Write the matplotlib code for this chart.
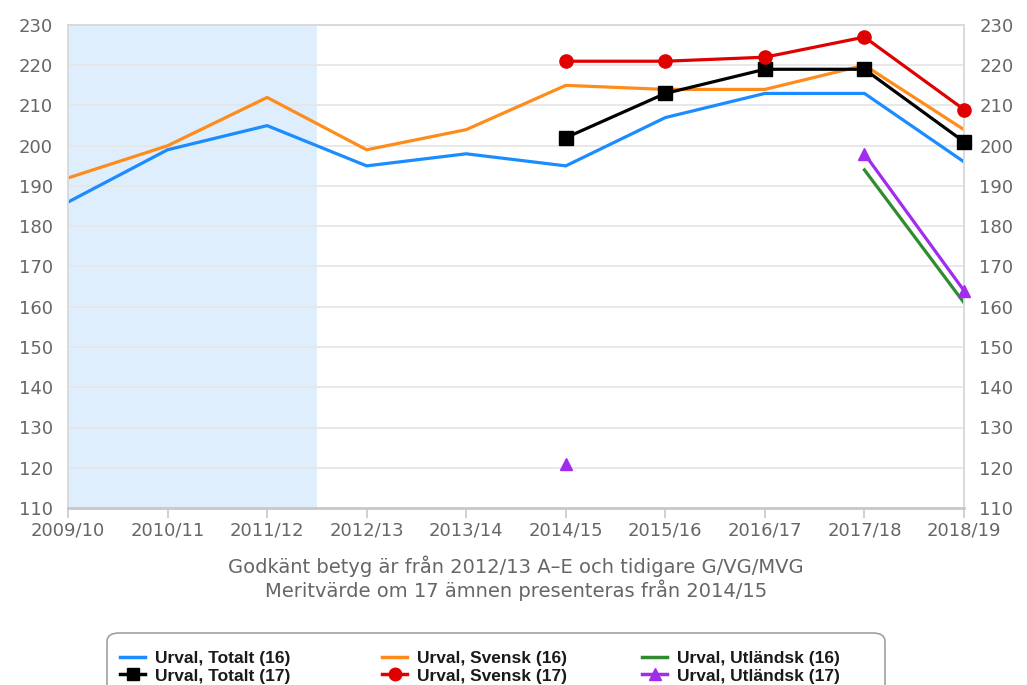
import numpy as np
import matplotlib
matplotlib.use("Agg")
import matplotlib.pyplot as plt
from matplotlib.patches import FancyBboxPatch
from matplotlib.lines import Line2D

# Läsår på x-axeln
years = ["2009/10", "2010/11", "2011/12", "2012/13", "2013/14",
         "2014/15", "2015/16", "2016/17", "2017/18", "2018/19"]

nan = np.nan
# Meritvärde, 16 ämnen
totalt_16 = [186, 199, 205, 195, 198, 195, 207, 213, 213, 196]
svensk_16 = [192, 200, 212, 199, 204, 215, 214, 214, 220, 204]
utl_16 = [nan, nan, nan, nan, nan, nan, nan, nan, 194, 161]
# Meritvärde, 17 ämnen (från 2014/15)
totalt_17 = [nan, nan, nan, nan, nan, 202, 213, 219, 219, 201]
svensk_17 = [nan, nan, nan, nan, nan, 221, 221, 222, 227, 209]
utl_17 = [nan, nan, nan, nan, nan, 121, nan, nan, 198, 164]

y_ticks = list(range(110, 231, 10))

c_blue = "#1a8cff"
c_orange = "#ff8c1a"
c_green = "#2e8b2e"
c_black = "#000000"
c_red = "#e00000"
c_purple = "#a12cf0"
c_text = "#666666"
c_axis = "#c8c8c8"

W, H = 1027, 685
fig = plt.figure(figsize=(W / 100, H / 100), dpi=100)
ax = fig.add_axes([68 / W, 1 - 508 / H, (964 - 68) / W, (508 - 25) / H])

x = np.arange(len(years))

# Skuggat område för äldre betygssystem
ax.axvspan(0, 2.5, color="#dfeefc", zorder=0, lw=0)

ax.set_xlim(0, len(years) - 1)
ax.set_ylim(110, 230)
ax.set_yticks(y_ticks)
ax.grid(axis="y", color="#e6e6e6", lw=1.3, zorder=0.5)
ax.set_axisbelow(True)

lw = 2.3
ax.plot(x, totalt_16, color=c_blue, lw=lw, zorder=2)
ax.plot(x, svensk_16, color=c_orange, lw=lw, zorder=2.1)
ax.plot(x, utl_16, color=c_green, lw=lw, zorder=2)
ax.plot(x, totalt_17, color=c_black, lw=lw, marker="s", ms=9.5, zorder=3, clip_on=False)
ax.plot(x, svensk_17, color=c_red, lw=lw, marker="o", ms=9.5, zorder=3.1, clip_on=False)
ax.plot(x, utl_17, color=c_purple, lw=lw, marker="^", ms=9, zorder=3, clip_on=False)

tick_font = dict(family="DejaVu Sans", size=13)
ax.set_xticks(x)
ax.set_xticklabels(years, color=c_text, **tick_font)
ax.tick_params(axis="x", length=7, width=1.2, color=c_axis, pad=3)
ax.tick_params(axis="y", length=0, pad=11)
for lab in ax.get_yticklabels():
    lab.set_color(c_text)
    lab.set_fontfamily("DejaVu Sans")
    lab.set_fontsize(13)

for side in ["top", "left", "right"]:
    ax.spines[side].set_color("#d8d8d8")
    ax.spines[side].set_linewidth(1.3)
ax.spines["bottom"].set_color(c_axis)
ax.spines["bottom"].set_linewidth(2)

# Samma skala till höger
ax2 = ax.twinx()
ax2.set_ylim(110, 230)
ax2.set_yticks(y_ticks)
ax2.set_yticklabels([str(v) for v in y_ticks], color=c_text, **tick_font)
ax2.tick_params(axis="y", length=0, pad=11)
for side in ax2.spines:
    ax2.spines[side].set_visible(False)

# Förklarande text under x-axeln
cx = (68 + 964) / 2 / W
fig.text(cx, 1 - 566 / H, "Godkänt betyg är från 2012/13 A–E och tidigare G/VG/MVG",
         ha="center", va="center", color=c_text, family="DejaVu Sans", size=14)
fig.text(cx, 1 - 590 / H, "Meritvärde om 17 ämnen presenteras från 2014/15",
         ha="center", va="center", color=c_text, family="DejaVu Sans", size=14)

# Legendram, rundade hörn
box = FancyBboxPatch((107 / W, (H - 720) / H), (885 - 107) / W, 87 / H,
                     boxstyle="round,pad=0,rounding_size=0.012",
                     transform=fig.transFigure, fc="white", ec="#a0a0a0", lw=1.2)
fig.patches.append(box)

columns = [
    (118, [("Urval, Totalt (16)", c_blue, None), ("Urval, Totalt (17)", c_black, "s")]),
    (380, [("Urval, Svensk (16)", c_orange, None), ("Urval, Svensk (17)", c_red, "o")]),
    (640, [("Urval, Utländsk (16)", c_green, None), ("Urval, Utländsk (17)", c_purple, "^")]),
]
for px, items in columns:
    handles = [Line2D([], [], color=c, lw=2.5, marker=m, ms=9) for _, c, m in items]
    labels = [t for t, _, _ in items]
    leg = fig.legend(handles, labels, loc="upper left",
                     bbox_to_anchor=((px - 10) / W, 1 - 639 / H),
                     frameon=False, handlelength=1.45, handletextpad=0.55,
                     labelspacing=0.12, borderpad=0.2,
                     prop=dict(family="Liberation Sans", weight="bold", size=12.5))
    for t in leg.get_texts():
        t.set_color("#1a1a1a")

fig.savefig("out.png", dpi=100)
